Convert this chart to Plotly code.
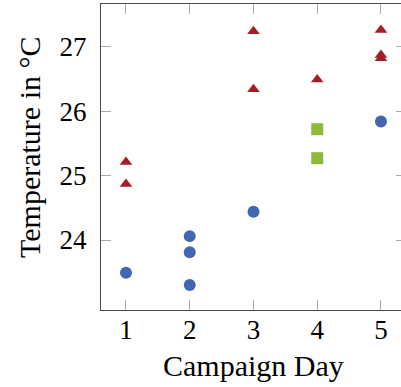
import plotly.graph_objects as go

# Measurements per campaign day, grouped by marker series
circle_day = [1, 2, 2, 2, 3, 5]
circle_temp = [23.49, 24.06, 23.81, 23.30, 24.44, 25.84]

square_day = [4, 4]
square_temp = [25.72, 25.27]

triangle_day = [1, 1, 3, 3, 4, 5, 5, 5]
triangle_temp = [25.21, 24.87, 27.24, 26.34, 26.49, 27.26, 26.87, 26.82]

x_ticks = [1, 2, 3, 4, 5]
y_ticks = [24, 25, 26, 27]

BLUE = "#4366B1"
GREEN = "#8CBB3C"
RED = "#A61E25"
FONT = "Liberation Serif"
LINE = "#4a4a4a"
TICK = "#ababab"

fig = go.Figure()
fig.add_trace(go.Scatter(x=circle_day, y=circle_temp, mode="markers",
                         marker=dict(symbol="circle", size=12, color=BLUE, line=dict(width=0))))
fig.add_trace(go.Scatter(x=square_day, y=square_temp, mode="markers",
                         marker=dict(symbol="square", size=12, color=GREEN, line=dict(width=0))))
fig.add_trace(go.Scatter(x=triangle_day, y=triangle_temp, mode="markers",
                         marker=dict(symbol="triangle-up", size=11, color=RED, line=dict(width=0))))
# invisible trace that carries the right-hand tick marks
fig.add_trace(go.Scatter(x=[None], y=[None], yaxis="y2", showlegend=False, hoverinfo="skip"))

yrange = [22.9135, 27.663]

fig.update_layout(
    width=401, height=387,
    margin=dict(l=101, r=0, t=4, b=77),
    paper_bgcolor="white", plot_bgcolor="white",
    showlegend=False,
    font=dict(family=FONT, size=27, color="black"),
    xaxis=dict(range=[0.608, 5.314], tickvals=x_ticks, ticks="inside", ticklen=10,
               tickwidth=1, tickcolor=TICK, showline=True, linecolor=LINE, linewidth=1,
               mirror="ticks", showgrid=False, zeroline=False,
               tickfont=dict(family=FONT, size=27), ticklabelstandoff=-4),
    yaxis=dict(range=yrange, tickvals=y_ticks, ticks="inside", ticklen=10,
               tickwidth=1, tickcolor=TICK, showline=True, linecolor=LINE, linewidth=1,
               showgrid=False, zeroline=False,
               tickfont=dict(family=FONT, size=27), ticklabelstandoff=8),
    yaxis2=dict(range=yrange, tickvals=y_ticks, overlaying="y", side="right",
                ticks="inside", ticklen=5, tickwidth=1, tickcolor=TICK,
                showticklabels=False, showline=False, showgrid=False, zeroline=False),
    annotations=[
        dict(text="Campaign Day", xref="x", yref="paper", x=3, y=(310 - 365) / 306,
             xanchor="center", yanchor="middle", showarrow=False,
             font=dict(family=FONT, size=30)),
        dict(text="Temperature in °C", xref="paper", yref="paper",
             x=(29 - 101) / 300, y=(310 - 148) / 306, textangle=-90,
             xanchor="center", yanchor="middle", showarrow=False,
             font=dict(family=FONT, size=30)),
    ],
)

fig.write_html("out.html")
